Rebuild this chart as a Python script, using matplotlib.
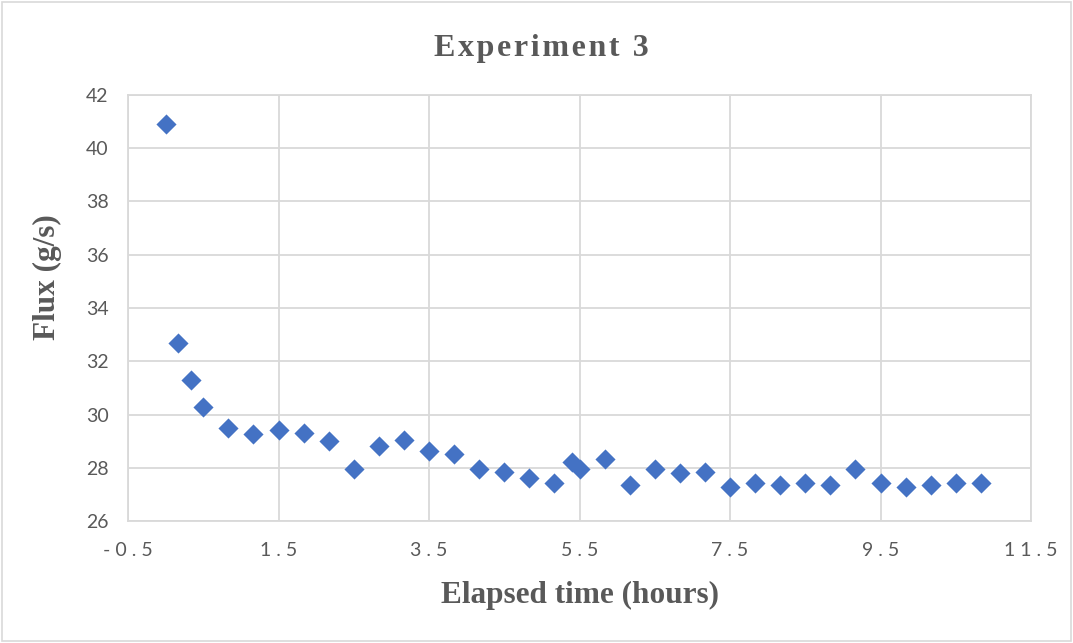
import numpy as np
import matplotlib
matplotlib.use("Agg")
import matplotlib.pyplot as plt
from matplotlib.patches import Rectangle

# elapsed time in hours and measured flux in g/s
hours = [0.0, 0.167, 0.333, 0.5, 0.833, 1.167, 1.5, 1.833, 2.167, 2.5,
         2.833, 3.167, 3.5, 3.833, 4.167, 4.5, 4.833, 5.167, 5.4, 5.5,
         5.833, 6.167, 6.5, 6.833, 7.167, 7.5, 7.833, 8.167, 8.5, 8.833,
         9.167, 9.5, 9.833, 10.167, 10.5, 10.833]
flux = [40.9, 32.7, 31.3, 30.3, 29.5, 29.25, 29.4, 29.3, 29.02, 27.95,
        28.83, 29.03, 28.64, 28.53, 27.94, 27.84, 27.63, 27.44, 28.21, 27.96,
        28.34, 27.34, 27.96, 27.82, 27.84, 27.28, 27.43, 27.34, 27.44, 27.34,
        27.94, 27.44, 27.28, 27.34, 27.44, 27.44]

xticks = [-0.5, 1.5, 3.5, 5.5, 7.5, 9.5, 11.5]
yticks = [26, 28, 30, 32, 34, 36, 38, 40, 42]


def spaced(s, gap=" "):
    # widen the tracking a little by putting a space between the glyphs
    return gap.join(s)


grey = "#595959"
grid = "#d9d9d9"
serif = ["Liberation Serif", "DejaVu Serif"]

fig = plt.figure(figsize=(10.73, 6.43), dpi=100)
ax = fig.add_axes([0.1193, 0.1897, 0.8416, 0.6626])

ax.scatter(hours, flux, marker="D", s=105, color="#4472c4", zorder=3,
           linewidths=0)

ax.set_xlim(-0.5, 11.5)
ax.set_ylim(26, 42)
ax.set_xticks(xticks)
ax.set_yticks(yticks)
ax.set_xticklabels([spaced(str(t)) for t in xticks])
ax.grid(True, color=grid, linewidth=1.3)
ax.set_axisbelow(True)
for side in ax.spines.values():
    side.set_color(grid)
    side.set_linewidth(1.3)
ax.tick_params(length=0, labelsize=14, labelcolor=grey)
ax.tick_params(axis="x", pad=15)
ax.tick_params(axis="y", pad=14)
for lab in ax.get_xticklabels() + ax.get_yticklabels():
    lab.set_family("Lato")

title = spaced("Experiment", "\u200a") + "\u200a \u200a3"
fig.text(0.505, 1 - 56 / 643, title, fontsize=23,
         fontweight="bold", color=grey, family=serif, ha="center", va="baseline")

ax.set_xlabel("Elapsed time (hours)", fontsize=22.5, fontweight="bold",
              color=grey, family=serif, va="baseline")
ax.xaxis.set_label_coords(0.5, -0.1925)
ax.set_ylabel("Flux (g/s)", fontsize=22.5, fontweight="bold",
              color=grey, family=serif)
ax.yaxis.set_label_coords(-0.073, 0.573)

# thin frame round the whole chart
fig.patches.append(Rectangle((0.002, 0.003), 0.996, 0.994, transform=fig.transFigure,
                             fill=False, edgecolor=grid, linewidth=1.2))

fig.savefig("out.png", dpi=100)
